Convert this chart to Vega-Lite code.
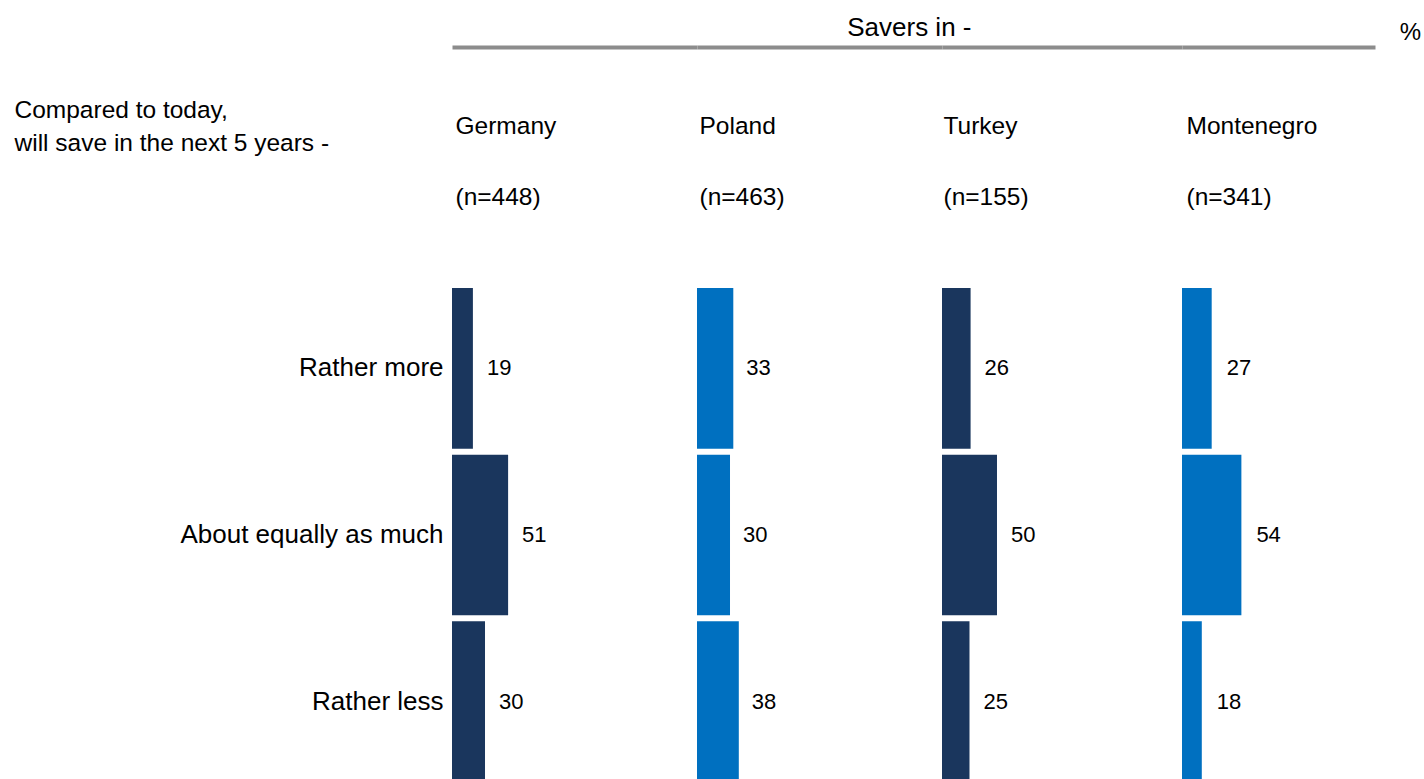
{
  "$schema": "https://vega.github.io/schema/vega-lite/v6.json",
  "background": "white",
  "padding": {"left": 14, "top": 15, "right": 0, "bottom": 0},
  "title": {"text": "Savers in -", "anchor": "middle", "fontSize": 26, "fontWeight": "normal", "color": "#000000", "font": "Liberation Sans", "offset": -21, "dx": 192},
  "data": {"values": [
    {"country": "Germany", "answer": "Rather more", "value": 19},
    {"country": "Germany", "answer": "About equally as much", "value": 51},
    {"country": "Germany", "answer": "Rather less", "value": 30},
    {"country": "Poland", "answer": "Rather more", "value": 33},
    {"country": "Poland", "answer": "About equally as much", "value": 30},
    {"country": "Poland", "answer": "Rather less", "value": 38},
    {"country": "Turkey", "answer": "Rather more", "value": 26},
    {"country": "Turkey", "answer": "About equally as much", "value": 50},
    {"country": "Turkey", "answer": "Rather less", "value": 25},
    {"country": "Montenegro", "answer": "Rather more", "value": 27},
    {"country": "Montenegro", "answer": "About equally as much", "value": 54},
    {"country": "Montenegro", "answer": "Rather less", "value": 18}
  ]},
  "spacing": 0,
  "resolve": {"scale": {"x": "independent", "y": "independent"}},
  "hconcat": [
    {
      "width": 245, "height": 500,
      "transform": [{"filter": "datum.country === 'Germany'"}],
      "encoding": {
        "y": {"field": "answer", "type": "nominal", "sort": ["Rather more", "About equally as much", "Rather less"],
          "scale": {"paddingInner": 0.036, "paddingOuter": 0.018},
          "axis": {"orient": "left", "domain": false, "ticks": false, "labelFontSize": 26, "labelColor": "#000000", "labelPadding": 9, "labelLimit": 500,
            "title": ["Compared to today,", "will save in the next 5 years -"], "titleAngle": 0, "titleX": -438, "titleY": -175, "titleAlign": "left", "titleBaseline": "middle", "titleLineHeight": 33, "titleFontSize": 24.5, "titleFontWeight": "normal", "titleColor": "#000000"}},
        "x": {"field": "value", "type": "quantitative", "scale": {"domain": [0, 222.7], "nice": false},
          "axis": {"orient": "top", "offset": 238, "domain": true, "domainColor": "#8c8c8c", "domainWidth": 4, "ticks": false, "labels": false, "grid": false,
            "title": ["Germany", "(n=448)"], "titleX": 3, "titleY": 79, "titleAlign": "left", "titleAnchor": "start", "titleBaseline": "middle", "titleLineHeight": 71, "titleFontSize": 24.5, "titleFontWeight": "normal", "titleColor": "#000000"}}
      },
      "layer": [
        {"mark": {"type": "bar"}, "encoding": {"color": {"field": "country", "type": "nominal", "scale": {"domain": ["Germany", "Poland", "Turkey", "Montenegro"], "range": ["#1a365d", "#0070c0", "#1a365d", "#0070c0"]}, "legend": null}}},
        {"mark": {"type": "text", "align": "left", "baseline": "middle", "dx": 14, "fontSize": 22, "color": "#000000"}, "encoding": {"text": {"field": "value", "type": "quantitative"}}}
      ]
    },
    {
      "width": 245, "height": 500,
      "transform": [{"filter": "datum.country === 'Poland'"}],
      "encoding": {
        "y": {"field": "answer", "type": "nominal", "sort": ["Rather more", "About equally as much", "Rather less"],
          "scale": {"paddingInner": 0.036, "paddingOuter": 0.018}, "axis": null},
        "x": {"field": "value", "type": "quantitative", "scale": {"domain": [0, 222.7], "nice": false},
          "axis": {"orient": "top", "offset": 238, "domain": true, "domainColor": "#8c8c8c", "domainWidth": 4, "ticks": false, "labels": false, "grid": false,
            "title": ["Poland", "(n=463)"], "titleX": 2, "titleY": 79, "titleAlign": "left", "titleAnchor": "start", "titleBaseline": "middle", "titleLineHeight": 71, "titleFontSize": 24.5, "titleFontWeight": "normal", "titleColor": "#000000"}}
      },
      "layer": [
        {"mark": {"type": "bar"}, "encoding": {"color": {"field": "country", "type": "nominal", "scale": {"domain": ["Germany", "Poland", "Turkey", "Montenegro"], "range": ["#1a365d", "#0070c0", "#1a365d", "#0070c0"]}, "legend": null}}},
        {"mark": {"type": "text", "align": "left", "baseline": "middle", "dx": 13, "fontSize": 22, "color": "#000000"}, "encoding": {"text": {"field": "value", "type": "quantitative"}}}
      ]
    },
    {
      "width": 240, "height": 500,
      "transform": [{"filter": "datum.country === 'Turkey'"}],
      "encoding": {
        "y": {"field": "answer", "type": "nominal", "sort": ["Rather more", "About equally as much", "Rather less"],
          "scale": {"paddingInner": 0.036, "paddingOuter": 0.018}, "axis": null},
        "x": {"field": "value", "type": "quantitative", "scale": {"domain": [0, 218.2], "nice": false},
          "axis": {"orient": "top", "offset": 238, "domain": true, "domainColor": "#8c8c8c", "domainWidth": 4, "ticks": false, "labels": false, "grid": false,
            "title": ["Turkey", "(n=155)"], "titleX": 1, "titleY": 79, "titleAlign": "left", "titleAnchor": "start", "titleBaseline": "middle", "titleLineHeight": 71, "titleFontSize": 24.5, "titleFontWeight": "normal", "titleColor": "#000000"}}
      },
      "layer": [
        {"mark": {"type": "bar"}, "encoding": {"color": {"field": "country", "type": "nominal", "scale": {"domain": ["Germany", "Poland", "Turkey", "Montenegro"], "range": ["#1a365d", "#0070c0", "#1a365d", "#0070c0"]}, "legend": null}}},
        {"mark": {"type": "text", "align": "left", "baseline": "middle", "dx": 14, "fontSize": 22, "color": "#000000"}, "encoding": {"text": {"field": "value", "type": "quantitative"}}}
      ]
    },
    {
      "width": 193, "height": 500,
      "transform": [{"filter": "datum.country === 'Montenegro'"}],
      "encoding": {
        "y": {"field": "answer", "type": "nominal", "sort": ["Rather more", "About equally as much", "Rather less"],
          "scale": {"paddingInner": 0.036, "paddingOuter": 0.018},
          "axis": {"orient": "right", "domain": false, "ticks": false, "labels": false, "grid": false,
            "title": "%", "titleAngle": 0, "titleX": 35, "titleY": -253, "titleAlign": "center", "titleBaseline": "middle", "titleFontSize": 24, "titleFontWeight": "normal", "titleColor": "#000000"}},
        "x": {"field": "value", "type": "quantitative", "scale": {"domain": [0, 175.5], "nice": false},
          "axis": {"orient": "top", "offset": 238, "domain": true, "domainColor": "#8c8c8c", "domainWidth": 4, "ticks": false, "labels": false, "grid": false,
            "title": ["Montenegro", "(n=341)"], "titleX": 4, "titleY": 79, "titleAlign": "left", "titleAnchor": "start", "titleBaseline": "middle", "titleLineHeight": 71, "titleFontSize": 24.5, "titleFontWeight": "normal", "titleColor": "#000000"}}
      },
      "layer": [
        {"mark": {"type": "bar"}, "encoding": {"color": {"field": "country", "type": "nominal", "scale": {"domain": ["Germany", "Poland", "Turkey", "Montenegro"], "range": ["#1a365d", "#0070c0", "#1a365d", "#0070c0"]}, "legend": null}}},
        {"mark": {"type": "text", "align": "left", "baseline": "middle", "dx": 15, "fontSize": 22, "color": "#000000"}, "encoding": {"text": {"field": "value", "type": "quantitative"}}}
      ]
    }
  ],
  "config": {
    "font": "Liberation Sans",
    "view": {"stroke": null},
    "concat": {"spacing": 0}
  }
}
